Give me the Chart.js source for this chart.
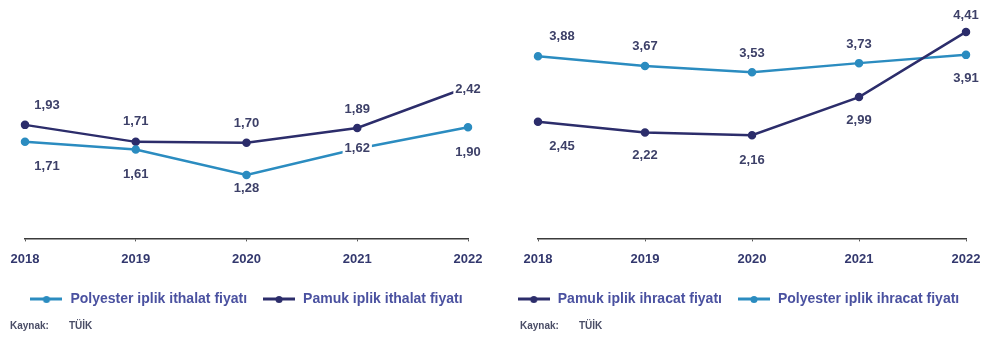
<!DOCTYPE html>
<html lang="tr">
<head>
<meta charset="utf-8">
<script src="https://cdn.jsdelivr.net/npm/chart.js@4.4.1/dist/chart.umd.min.js"></script>
<style>
  body { margin: 0; background: #fff; }
  .panel { position: absolute; top: 0; width: 492px; height: 344px; }
  .kaynak { position: absolute; top: 320px; font: bold 10px "Liberation Sans", Arial, sans-serif; color: #4a4d66; }
  .kaynak span { margin-left: 20px; }
</style>
</head>
<body>
<div class="panel" style="left:0">
  <canvas id="ithalat" width="492" height="344"></canvas>
  <div class="kaynak" style="left:10px">Kaynak:<span>TÜİK</span></div>
</div>
<div class="panel" style="left:492px">
  <canvas id="ihracat" width="492" height="344"></canvas>
  <div class="kaynak" style="left:28px">Kaynak:<span>TÜİK</span></div>
</div>
<script>
const years = ['2018', '2019', '2020', '2021', '2022'];

// ithalat fiyatları
const pamukIthalat = [1.93, 1.71, 1.70, 1.89, 2.42];
const polyesterIthalat = [1.71, 1.61, 1.28, 1.62, 1.90];

// ihracat fiyatları
const pamukIhracat = [2.45, 2.22, 2.16, 2.99, 4.41];
const polyesterIhracat = [3.88, 3.67, 3.53, 3.73, 3.91];

const lacivert = '#2c2d6b';
const mavi = '#2b8cc0';

Chart.defaults.font.family = '"Liberation Sans", Arial, sans-serif';

// etiketlerin noktaya göre kayması [dx, dy]
const ithalatShifts = [
  [[22, 25], [0, 25], [0, 13], [0, 0], [0, 25]],   // polyester
  [[22, -19], [0, -20], [0, -19], [0, -19], [0, 2]] // pamuk
];
const ihracatShifts = [
  [[24, 25], [0, 23], [0, 25], [0, 23], [0, -17]],  // pamuk
  [[24, -20], [0, -19], [0, -19], [0, -19], [0, 24]] // polyester
];

// değer etiketleri (virgüllü)
const valueLabels = {
  id: 'valueLabels',
  afterDatasetsDraw(chart, args, opts) {
    const ctx = chart.ctx;
    ctx.save();
    ctx.font = 'bold 13px "Liberation Sans", Arial, sans-serif';
    ctx.textAlign = 'center';
    ctx.textBaseline = 'middle';
    chart.data.datasets.forEach((ds, i) => {
      const shifts = opts.shifts[i];
      chart.getDatasetMeta(i).data.forEach((pt, j) => {
        const text = ds.data[j].toFixed(2).replace('.', ',');
        const x = pt.x + shifts[j][0];
        const y = pt.y + shifts[j][1];
        const w = ctx.measureText(text).width;
        ctx.fillStyle = '#fff';
        ctx.fillRect(x - w / 2 - 2, y - 7, w + 4, 14);
        ctx.fillStyle = '#3d4068';
        ctx.fillText(text, x, y);
      });
    });
    ctx.restore();
  }
};

function legendMark(color) {
  const c = document.createElement('canvas');
  c.width = 32;
  c.height = 10;
  const g = c.getContext('2d');
  g.strokeStyle = color;
  g.lineWidth = 3;
  g.beginPath();
  g.moveTo(0, 5);
  g.lineTo(32, 5);
  g.stroke();
  g.fillStyle = color;
  g.beginPath();
  g.arc(16, 5.5, 3.5, 0, Math.PI * 2);
  g.fill();
  return c;
}

function line(label, data, color) {
  return {
    label: label,
    data: data,
    borderColor: color,
    backgroundColor: color,
    borderWidth: 2.5,
    pointRadius: 3,
    pointHoverRadius: 3,
    tension: 0
  };
}

// side = [sol, sağ] çizim alanı boşluğu
function makeChart(id, datasets, yMin, yMax, top, side, shifts) {
  return new Chart(document.getElementById(id), {
    type: 'line',
    data: { labels: years, datasets: datasets },
    plugins: [valueLabels],
    options: {
      responsive: false,
      animation: false,
      layout: { padding: { top: top, left: 0, right: 0, bottom: 28 } },
      scales: {
        x: {
          grid: { display: true, drawOnChartArea: false, drawTicks: true, tickLength: 3, color: '#555' },
          border: { display: true, color: '#3b3b3b', width: 1.5 },
          ticks: {
            padding: 10,
            color: '#33386e',
            font: { size: 13, weight: 'bold' },
            maxRotation: 0,
            autoSkip: false
          },
          afterFit(scale) {
            scale.paddingLeft = side[0];
            scale.paddingRight = side[1];
          }
        },
        y: { display: false, min: yMin, max: yMax }
      },
      plugins: {
        tooltip: { enabled: false },
        legend: {
          position: 'bottom',
          align: 'center',
          labels: {
            usePointStyle: true,
            pointStyleWidth: 34,
            padding: 15,
            color: '#4a51a0',
            font: { size: 14, weight: 'bold' },
            generateLabels(chart) {
              const items = Chart.defaults.plugins.legend.labels.generateLabels(chart);
              items.forEach(it => {
                it.pointStyle = legendMark(chart.data.datasets[it.datasetIndex].borderColor);
              });
              return items;
            }
          }
        },
        valueLabels: { shifts: shifts }
      }
    }
  });
}

makeChart('ithalat', [
  line('Polyester iplik ithalat fiyatı', polyesterIthalat, mavi),
  line('Pamuk iplik ithalat fiyatı', pamukIthalat, lacivert)
], 0.46, 2.77, 60, [25, 24], ithalatShifts);

makeChart('ihracat', [
  line('Pamuk iplik ihracat fiyatı', pamukIhracat, lacivert),
  line('Polyester iplik ihracat fiyatı', polyesterIhracat, mavi)
], -0.09, 4.67, 20, [46, 18], ihracatShifts);
</script>
</body>
</html>
